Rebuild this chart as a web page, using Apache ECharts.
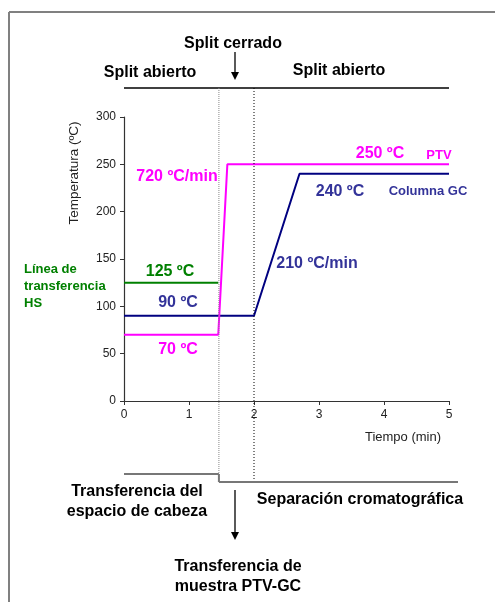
<!DOCTYPE html>
<html><head><meta charset="utf-8">
<script src="https://cdn.jsdelivr.net/npm/echarts@6/dist/echarts.min.js"></script>
<style>html,body{margin:0;padding:0;background:#fff}#c{width:495px;height:602px}</style>
</head><body><div id="c"></div>
<script>
const timeTicks = [0, 1, 2, 3, 4, 5];
const tempTicks = [0, 50, 100, 150, 200, 250, 300];
const ptvTime = [0, 1.45, 1.59, 5];
const ptvTemp = [70, 70, 250, 250];
const columnTime = [0, 2.0, 2.7, 5];
const columnTemp = [90, 90, 240, 240];
const hsTime = [0, 1.45];
const hsTemp = [125, 125];
const splitClosedTimes = [1.46, 2.0];

const PINK = '#ff00ff', NAVY = '#000080', NAVYT = '#333399', GREEN = '#008000';
const FONT = '"Liberation Sans", Arial, sans-serif';

const chart = echarts.init(document.getElementById('c'), null, {renderer: 'canvas'});
const pairs = (xs, ys) => xs.map((x, i) => [x, ys[i]]);

chart.setOption({
  animation: false,
  grid: {left: 124, top: 117, width: 325, height: 284},
  xAxis: {
    type: 'value', min: timeTicks[0], max: timeTicks[timeTicks.length - 1], interval: 1,
    axisLine: {lineStyle: {color: '#333', width: 1.2}},
    axisTick: {show: true, length: 4, lineStyle: {color: '#333'}},
    axisLabel: {color: '#222', fontSize: 12, fontFamily: FONT, margin: 8},
    splitLine: {show: false}
  },
  yAxis: {
    type: 'value', min: tempTicks[0], max: tempTicks[tempTicks.length - 1], interval: 50,
    axisLine: {show: true, lineStyle: {color: '#333', width: 1.2}},
    axisTick: {show: true, length: 4, lineStyle: {color: '#333'}},
    axisLabel: {color: '#222', fontSize: 12, fontFamily: FONT, margin: 8},
    splitLine: {show: false}
  },
  series: [
    {type: 'line', data: pairs(hsTime, hsTemp), symbol: 'none', lineStyle: {color: GREEN, width: 2}, z: 3},
    {type: 'line', data: pairs(columnTime, columnTemp), symbol: 'none', lineStyle: {color: NAVY, width: 2}, z: 4},
    {type: 'line', data: pairs(ptvTime, ptvTemp), symbol: 'none', lineStyle: {color: PINK, width: 2}, z: 5}
  ]
});

const px = (t) => chart.convertToPixel({xAxisIndex: 0}, t);
const x0 = px(timeTicks[0]), x5 = px(timeTicks[timeTicks.length - 1]);
const xa = px(splitClosedTimes[0]), xb = px(splitClosedTimes[1]);
const topY = 88, botY = 482, botY2 = 474;

function txt(x, y, s, size, color, align, weight) {
  return {type: 'text', x: x, y: y, z: 10, style: {text: s, fill: color, font: (weight || 'bold') + ' ' + size + 'px ' + FONT, textAlign: align || 'center', textVerticalAlign: 'middle', lineHeight: size + 4}};
}
function line(x1, y1, x2, y2, color, width, dash) {
  return {type: 'line', z: 8, shape: {x1, y1, x2, y2}, style: {stroke: color, lineWidth: width, lineDash: dash || null}};
}
function arrow(x, y1, y2) {
  return [
    line(x, y1, x, y2 - 6, '#000', 1.3),
    {type: 'polygon', z: 8, shape: {points: [[x - 4, y2 - 8], [x + 4, y2 - 8], [x, y2]]}, style: {fill: '#000'}}
  ];
}
const yName = txt(74, 173, 'Temperatura (ºC)', 13.5, '#222', 'center', 'normal');
yName.rotation = Math.PI / 2;

chart.setOption({
  graphic: [
    line(9, 12, 495, 12, '#808080', 2),
    line(9, 12, 9, 602, '#808080', 2),
    line(x0, topY, x5, topY, '#000', 1.5),
    line(xa, topY, xa, botY, '#888', 1, [1, 1]),
    line(xb, topY, xb, botY, '#000', 1, [1, 2]),
    line(x0, botY2, xa, botY2, '#777', 2),
    line(xa, botY2, xa, botY, '#777', 2),
    line(xa, botY, 458, botY, '#777', 2),
    ...arrow(235, 52, 80),
    ...arrow(235, 490, 540),
    yName,
    txt(233, 44, 'Split cerrado', 16, '#000'),
    txt(150, 73, 'Split abierto', 16, '#000'),
    txt(339, 71, 'Split abierto', 16, '#000'),
    txt(177, 177, '720 ºC/min', 16, PINK),
    txt(170, 272, '125 ºC', 16, GREEN),
    txt(178, 303, '90 ºC', 16, NAVYT),
    txt(178, 350, '70 ºC', 16, PINK),
    txt(24, 286, 'Línea de\ntransferencia\nHS', 13, GREEN, 'left'),
    txt(380, 154, '250 ºC', 16, PINK),
    txt(439, 155, 'PTV', 13, PINK),
    txt(340, 192, '240 ºC', 16, NAVYT),
    txt(428, 191, 'Columna GC', 13, NAVYT),
    txt(317, 264, '210 ºC/min', 16, NAVYT),
    txt(403, 437, 'Tiempo (min)', 13, '#222', 'center', 'normal'),
    txt(137, 502, 'Transferencia del\nespacio de cabeza', 16, '#000'),
    txt(360, 500, 'Separación cromatográfica', 16, '#000'),
    txt(238, 577, 'Transferencia de\nmuestra PTV-GC', 16, '#000')
  ]
});
</script></body></html>
